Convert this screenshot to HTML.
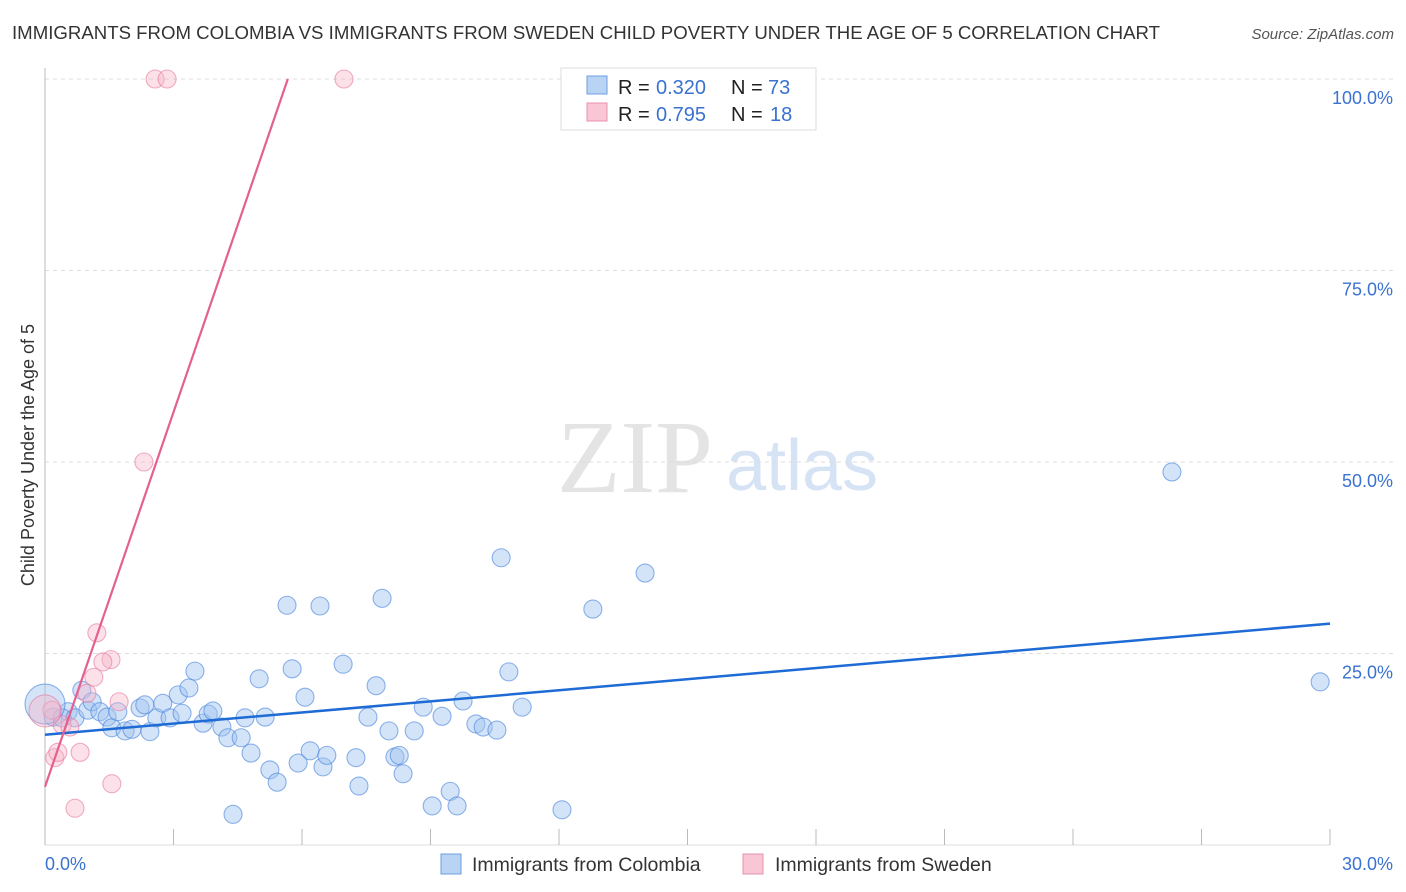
<!DOCTYPE html>
<html><head><meta charset="utf-8"><style>
body{margin:0;background:#fff;font-family:"Liberation Sans",sans-serif;}
svg{display:block}
</style></head><body>
<svg id="chart" width="1406" height="892">
<text x="12" y="39" font-size="18" fill="#333" textLength="1148" lengthAdjust="spacingAndGlyphs">IMMIGRANTS FROM COLOMBIA VS IMMIGRANTS FROM SWEDEN CHILD POVERTY UNDER THE AGE OF 5 CORRELATION CHART</text>
<text x="1394" y="39" font-size="15" fill="#555" font-style="italic" text-anchor="end">Source: ZipAtlas.com</text>
<g><text x="635" y="492" font-size="104" fill="#e4e4e4" font-family="Liberation Serif,serif" text-anchor="middle">ZIP</text><text x="802" y="490" font-size="72" fill="#d6e3f5" text-anchor="middle">atlas</text></g>
<g id="grid"></g><g id="axes"></g><g id="marks"></g>
<text x="34" y="455" font-size="18" fill="#333" text-anchor="middle" transform="rotate(-90 34 455)">Child Poverty Under the Age of 5</text>
<g>
<rect x="561" y="68" width="255" height="62" fill="#fff" stroke="#ddd"/>
<rect x="587" y="76" width="20" height="18" fill="#b9d3f5" stroke="#6d9de0"/>
<rect x="587" y="103" width="20" height="18" fill="#f9c6d6" stroke="#e891ae"/>
<text x="618" y="94" font-size="20" fill="#222">R =<tspan x="656" fill="#3a72d0">0.320</tspan><tspan x="731">N =</tspan><tspan x="768" fill="#3a72d0">73</tspan></text>
<text x="618" y="121" font-size="20" fill="#222">R =<tspan x="656" fill="#3a72d0">0.795</tspan><tspan x="731">N =</tspan><tspan fill="#3a72d0" x="770">18</tspan></text>
</g>
<g>
<rect x="441" y="854" width="20" height="20" fill="#b9d3f5" stroke="#6d9de0"/>
<text x="472" y="871" font-size="19.5" fill="#333">Immigrants from Colombia</text>
<rect x="743" y="854" width="20" height="20" fill="#f9c6d6" stroke="#e891ae"/>
<text x="775" y="871" font-size="19.5" fill="#333">Immigrants from Sweden</text>
</g>
</svg>
<script>
const blueX=[0.19,0.54,0.40,0.70,0.86,1.00,1.10,1.28,1.45,1.56,1.70,1.87,2.03,2.22,2.33,2.45,2.61,2.75,2.92,3.11,3.20,3.36,3.50,3.69,3.81,3.92,4.13,4.27,4.58,4.67,4.81,5.00,5.14,5.25,5.42,5.65,5.77,5.91,6.07,6.19,6.42,6.49,6.58,6.96,7.26,7.33,7.54,7.73,7.87,8.03,8.17,8.27,8.36,8.62,8.83,9.04,9.27,9.46,9.62,9.76,10.06,10.23,10.55,10.65,10.83,11.14,12.07,12.79,14.01,26.31,29.77,4.39,0.0];
const blueY=[16.7,17.4,16.6,16.6,20.2,17.6,18.7,17.4,16.7,15.3,17.4,14.9,15.1,17.9,18.3,14.8,16.6,18.5,16.6,19.6,17.2,20.5,22.7,15.9,17.1,17.5,15.4,14.0,14.0,16.6,12.0,21.7,16.7,9.8,8.2,31.3,23.0,10.7,19.3,12.3,31.2,10.2,11.7,23.6,11.4,7.7,16.7,20.8,32.2,14.9,11.5,11.7,9.3,14.9,18.0,5.1,16.8,7.0,5.1,18.8,15.8,15.4,15.0,37.5,22.6,18.0,4.6,30.8,35.5,48.7,21.3,4.0,18.4];
const pinkX=[2.57,2.85,6.98,2.31,1.21,1.54,1.35,1.14,1.73,0.98,0.16,0.40,0.58,0.23,0.82,0.30,0.70,1.56,0.0];
const pinkY=[100,100,100,50.0,27.7,24.2,23.9,21.9,18.7,19.8,17.6,15.7,15.4,11.4,12.1,12.1,4.8,8.0,17.5];
const blueTrend=[14.4,28.9];
const pinkTrend=[7.6,16.3];
const yTicks=[25,50,75,100];
const xTickVals=[0,3,6,9,12,15,18,21,24,27,30];
const sx=v=>45+v*1285/30, sy=v=>845-v*7.66;
const NS='http://www.w3.org/2000/svg';
function mk(t,a,p){const e=document.createElementNS(NS,t);for(const k in a)e.setAttribute(k,a[k]);p.appendChild(e);return e;}
const grid=document.getElementById('grid'),axes=document.getElementById('axes'),marks=document.getElementById('marks');
yTicks.forEach(v=>{
 const l=mk('line',{x1:45,x2:1395,y1:sy(v),y2:sy(v),stroke:'#ddd','stroke-dasharray':'4 4'},grid);
 
 
 const t=mk('text',{x:1393,y:sy(v)+25,'font-size':18,fill:'#3a72d0','text-anchor':'end'},axes);
 t.textContent=v.toFixed(1)+'%';
 
 
});
mk('line',{x1:45,x2:45,y1:68,y2:845,stroke:'#bbb'},axes);
mk('line',{x1:45,x2:1330,y1:845,y2:845,stroke:'#ddd'},axes);
xTickVals.forEach(v=>{
 const l=mk('line',{x1:sx(v),x2:sx(v),y1:829,y2:845,stroke:'#bbb'},axes);
 
 
});
[[0,'0.0%',45,'start'],[30,'30.0%',1393,'end']].forEach(d=>{
 const t=mk('text',{x:d[2],y:870,'font-size':18,fill:'#3a72d0','text-anchor':d[3]},axes);
 t.textContent=d[1];
 
 
});
blueX.forEach((x,i)=>{
 const big=(x===0);
 const c=mk('circle',{cx:sx(x),cy:sy(blueY[i]),r:big?20:9,fill:'rgba(160,195,240,0.45)',stroke:'rgba(70,130,220,0.6)','stroke-width':1.1},marks);
 
 
});
pinkX.forEach((x,i)=>{
 const big=(x===0);
 const c=mk('circle',{cx:sx(x),cy:sy(pinkY[i]),r:big?16:9,fill:'rgba(248,180,200,0.4)',stroke:'rgba(230,120,160,0.6)','stroke-width':1.1},marks);
 
 
});
const bl=mk('line',{x1:sx(0),y1:sy(blueTrend[0]),x2:sx(30),y2:sy(blueTrend[1]),stroke:'#1e6bd6','stroke-width':2.5},marks);


const xe=(100-pinkTrend[0])/pinkTrend[1];
const pl=mk('line',{x1:sx(0),y1:sy(pinkTrend[0]),x2:sx(xe),y2:sy(100),stroke:'#e4608f','stroke-width':2.2},marks);


</script>
</body></html>
